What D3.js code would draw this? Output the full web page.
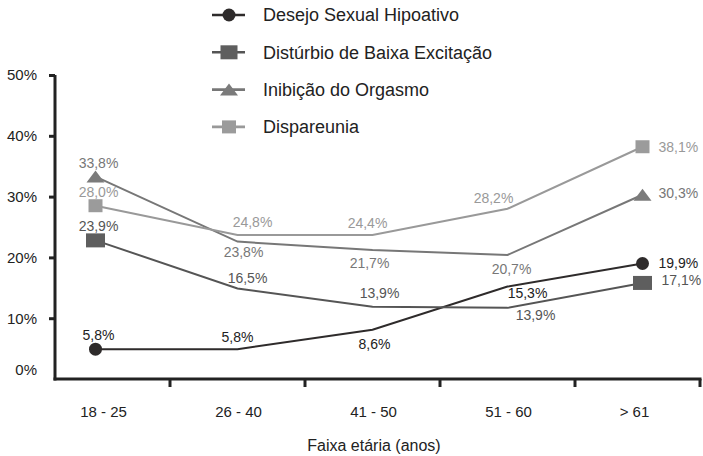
<!DOCTYPE html>
<html lang="pt">
<head>
<meta charset="utf-8">
<title>Disfunções sexuais por faixa etária</title>
<script src="https://d3js.org/d3.v7.min.js"></script>
<style>
	body { margin: 0; background: #fff; font-family: "Liberation Sans", Arial, sans-serif; }
	.axis path, .axis line { stroke: #222; stroke-width: 3; }
	.axis text { font-size: 15px; fill: #222; }
	.lbl { font-size: 14px; }
</style>
</head>
<body>
<div class="main"></div>
<script>
	// categories (faixa etária)
	var faixas = ["18 - 25", "26 - 40", "41 - 50", "51 - 60", "> 61"]
	var yTicks = [0, 10, 20, 30, 40, 50]

	// values as plotted in the original picture (%)
	var desejo     = [4.9, 4.9, 8.1, 15.2, 19.0]
	var disturbio  = [22.8, 14.9, 11.9, 11.7, 15.8]
	var inibicao   = [33.3, 22.6, 21.2, 20.4, 30.3]
	var dispareuni = [28.5, 23.7, 23.7, 28.0, 38.2]

	// printed data labels (they differ a little from the plotted points)
	var desejoLbl     = ["5,8%", "5,8%", "8,6%", "15,3%", "19,9%"]
	var disturbioLbl  = ["23,9%", "16,5%", "13,9%", "13,9%", "17,1%"]
	var inibicaoLbl   = ["33,8%", "23,8%", "21,7%", "20,7%", "30,3%"]
	var dispareuniLbl = ["28,0%", "24,8%", "24,4%", "28,2%", "38,1%"]

	var width = 703
	var height = 456

	var svg = d3.select(".main").append("svg")
		.attr("width", width)
		.attr("height", height)

	var x = d3.scaleBand().domain(faixas).range([35, 710])
	var y = d3.scaleLinear().domain([0, 50]).range([379, 75])
	var xl = 55, xr = 700

	// first category's points sit a bit left of the band centre in the original
	function px(i) {
		return x(faixas[i]) + x.bandwidth() / 2 - (i == 0 ? 7 : 0)
	}

	var series = [
		{name: "Desejo Sexual Hipoativo", values: desejo, labels: desejoLbl, line: "#2e2b2b", fill: "#2e2b2b", text: "#222", shape: "circle",
			off: [[3, -14], [0, -12], [2, 14], [20, 7], [16, 0]]},
		{name: "Distúrbio de Baixa Excitação", values: disturbio, labels: disturbioLbl, line: "#555", fill: "#5e5e5e", text: "#555", shape: "bigsq",
			off: [[3, -14], [10, -10], [7, -14], [28, 7], [19, -3]]},
		{name: "Inibição do Orgasmo", values: inibicao, labels: inibicaoLbl, line: "#777", fill: "#7b7b7b", text: "#777", shape: "tri",
			off: [[3, -13], [6, 11], [-3, 13], [4, 14], [16, -2]]},
		{name: "Dispareunia", values: dispareuni, labels: dispareuniLbl, line: "#999", fill: "#9b9b9b", text: "#999", shape: "sq",
			off: [[3, -14], [15, -13], [-5, -12], [-14, -11], [16, 0]]}
	]

	function marker(sel, shape, fill, big) {
		if (shape == "circle") {
			sel.append("circle").attr("r", 6.5).attr("fill", fill)
		} else if (shape == "bigsq") {
			var w = big ? 19 : 17
			sel.append("rect").attr("x", -w / 2).attr("y", -7).attr("width", w).attr("height", 14).attr("fill", fill)
		} else if (shape == "sq") {
			sel.append("rect").attr("x", -7).attr("y", -6.5).attr("width", 14).attr("height", 13).attr("fill", fill)
		} else {
			sel.append("path").attr("d", "M-9,6L9,6L0,-6Z").attr("fill", fill)
		}
	}

	// y axis
	var yAxis = d3.axisLeft(y).tickValues(yTicks).tickSize(6).tickSizeOuter(0).tickPadding(12)
		.tickFormat(function(d){ return d + "%" })
	var gy = svg.append("g").attr("class", "axis").attr("transform", "translate(" + xl + ",0)").call(yAxis)
	gy.select(".domain").attr("d", "M0," + (y(0) + 1.5) + "V" + y(50))
	gy.selectAll(".tick").filter(function(d){ return d == 0 }).select("line").remove()
	gy.selectAll(".tick").filter(function(d){ return d == 0 }).select("text").attr("dy", "-0.28em")

	// x axis (drawn by hand: ticks at band edges)
	var gx = svg.append("g").attr("class", "axis")
	gx.append("line").attr("x1", xl - 1.5).attr("x2", xr + 1.5).attr("y1", y(0)).attr("y2", y(0))
	gx.selectAll(".xt").data(faixas).enter().append("line")
		.attr("x1", function(d){ return Math.min(x(d) + x.bandwidth(), xr) })
		.attr("x2", function(d){ return Math.min(x(d) + x.bandwidth(), xr) })
		.attr("y1", y(0)).attr("y2", y(0) + 8)
	gx.selectAll(".xl").data(faixas).enter().append("text")
		.attr("x", function(d){ return x(d) + x.bandwidth() / 2 + (d == "> 61" ? -8 : 1) })
		.attr("y", 417)
		.attr("text-anchor", "middle")
		.text(function(d){ return d })

	svg.append("text")
		.attr("x", 374).attr("y", 451)
		.attr("text-anchor", "middle")
		.style("font-size", "16px").style("fill", "#222")
		.text("Faixa etária (anos)")

	var line = d3.line()
		.x(function(d, i){ return px(i) })
		.y(function(d){ return y(d) })

	series.forEach(function(s) {
		svg.append("path")
			.datum(s.values)
			.attr("d", line)
			.attr("fill", "none")
			.attr("stroke", s.line)
			.attr("stroke-width", 2)
	})

	series.forEach(function(s) {
		var pts = svg.append("g")
		s.values.forEach(function(v, i) {
			if (i == 0 || i == s.values.length - 1) {
				var m = pts.append("g").attr("transform", "translate(" + px(i) + "," + y(v) + ")")
				marker(m, s.shape, s.fill, true)
			}
			var last = i == s.values.length - 1
			pts.append("text")
				.attr("class", "lbl")
				.attr("x", px(i) + s.off[i][0])
				.attr("y", y(v) + s.off[i][1])
				.attr("dy", "0.35em")
				.attr("text-anchor", last ? "start" : "middle")
				.attr("fill", s.text)
				.text(s.labels[i])
		})
	})

	// legend
	var leg = svg.append("g").selectAll("g").data(series).enter().append("g")
		.attr("transform", function(d, i){ return "translate(229," + (15 + i * 37.3) + ")" })
	leg.append("line").attr("x1", -17).attr("x2", 16).attr("stroke", function(d){ return d.line }).attr("stroke-width", 2.6)
	leg.each(function(d){ marker(d3.select(this), d.shape, d.fill, false) })
	leg.append("text")
		.attr("x", 34).attr("dy", "0.35em")
		.style("font-size", "18px").style("fill", "#222")
		.text(function(d){ return d.name })
</script>
</body>
</html>
